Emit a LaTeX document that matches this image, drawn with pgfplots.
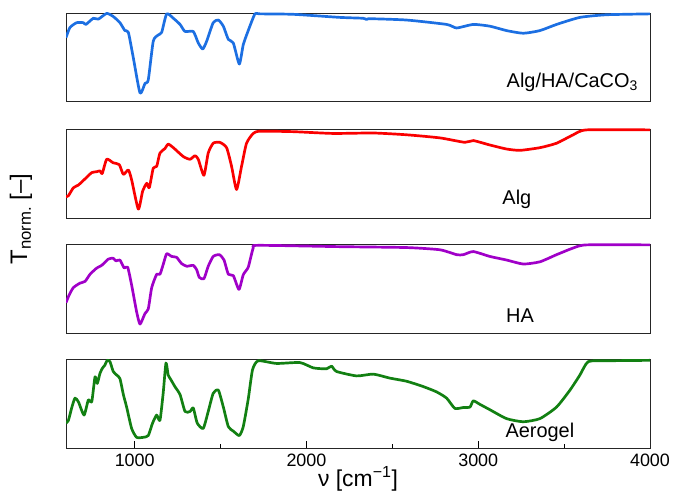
\documentclass[border=0pt]{standalone}
\usepackage{fontspec}
\setmainfont{Liberation Sans}
\usepackage{pgfplots}
\pgfplotsset{compat=1.18}
\definecolor{cblue}{RGB}{28,111,226}
\definecolor{cred}{RGB}{250,0,0}
\definecolor{cpurple}{RGB}{160,0,200}
\definecolor{cgreen}{RGB}{18,128,18}
\pgfplotsset{
  panel/.style={
    scale only axis, width=584bp, anchor=south west,
    xmin=600, xmax=4000, ymin=0, ymax=1,
    ytick=\empty, axis line style={line width=0.9pt, black!85},
    /pgf/number format/assume math mode=true,
    /pgf/number format/set thousands separator={},
    every axis plot/.append style={line width=2.7pt, line join=round, smooth, tension=0.35},
  },
  nox/.style={xtick=\empty},
}
\begin{document}
\begin{tikzpicture}
\useasboundingbox (-66bp,-51bp) rectangle (607bp,448bp);
% Panel 1
\begin{axis}[panel, nox, at={(0bp,347bp)}, height=88bp]
\addplot[cblue] coordinates {(600,0.72)(623,0.835)(662,0.89)(701,0.89)(716,0.87)(759,0.94)(788,0.93)(837,0.995)(875,0.96)(914,0.89)(943,0.80)(963,0.78)(992,0.49)(1031,0.09)(1060,0.20)(1079,0.24)(1108,0.68)(1137,0.75)(1157,0.78)(1186,0.99)(1225,0.94)(1264,0.87)(1293,0.79)(1341,0.79)(1370,0.66)(1396,0.59)(1419,0.68)(1457,0.89)(1487,0.92)(1516,0.85)(1545,0.70)(1574,0.66)(1609,0.42)(1632,0.64)(1661,0.80)(1700,0.99)(1730,0.99)(1923,0.985)(2195,0.95)(2330,0.94)(2350,0.925)(2370,0.935)(2583,0.92)(2816,0.87)(2874,0.83)(2971,0.87)(3068,0.85)(3165,0.80)(3262,0.77)(3359,0.80)(3456,0.87)(3592,0.95)(3747,0.98)(4000,0.99)};
\node[anchor=east, font=\fontsize{20}{22}\selectfont] at (axis cs:3950,0.21) {Alg/HA/CaCO\textsubscript{3}};
\end{axis}
% Panel 2
\begin{axis}[panel, nox, at={(0bp,230bp)}, height=89bp]
\addplot[cred] coordinates {(600,0.24)(614,0.25)(643,0.34)(672,0.37)(711,0.44)(750,0.51)(779,0.52)(798,0.53)(811,0.50)(837,0.66)(875,0.62)(910,0.60)(934,0.49)(963,0.54)(982,0.43)(1021,0.10)(1046,0.30)(1070,0.39)(1085,0.34)(1108,0.56)(1128,0.58)(1147,0.73)(1176,0.78)(1195,0.83)(1225,0.79)(1283,0.69)(1322,0.66)(1351,0.70)(1370,0.66)(1403,0.48)(1428,0.73)(1457,0.84)(1496,0.85)(1535,0.79)(1564,0.58)(1593,0.32)(1622,0.58)(1651,0.84)(1690,0.95)(1729,0.975)(1923,0.97)(2155,0.95)(2389,0.955)(2583,0.935)(2777,0.90)(2922,0.85)(2971,0.87)(3068,0.82)(3165,0.775)(3243,0.76)(3359,0.79)(3456,0.84)(3553,0.935)(3631,0.99)(4000,0.99)};
\node[font=\fontsize{20}{22}\selectfont] at (axis cs:3225,0.21) {Alg};
\end{axis}
% Panel 3
\begin{axis}[panel, nox, at={(0bp,115bp)}, height=89bp]
\addplot[cpurple] coordinates {(600,0.34)(619,0.43)(643,0.51)(681,0.56)(711,0.58)(740,0.66)(779,0.73)(808,0.76)(846,0.83)(875,0.84)(891,0.81)(914,0.82)(939,0.73)(959,0.74)(982,0.54)(1011,0.24)(1031,0.10)(1060,0.22)(1079,0.27)(1099,0.51)(1128,0.66)(1147,0.66)(1166,0.77)(1186,0.89)(1215,0.86)(1244,0.85)(1273,0.78)(1303,0.75)(1341,0.76)(1361,0.71)(1376,0.625)(1403,0.61)(1428,0.75)(1457,0.86)(1493,0.88)(1520,0.82)(1545,0.66)(1574,0.645)(1607,0.49)(1632,0.655)(1661,0.74)(1690,0.955)(1719,0.985)(2195,0.97)(2583,0.96)(2777,0.935)(2874,0.88)(2913,0.88)(2971,0.915)(3068,0.86)(3165,0.82)(3262,0.775)(3359,0.80)(3456,0.88)(3553,0.955)(3631,0.99)(4000,0.99)};
\node[font=\fontsize{20}{22}\selectfont] at (axis cs:3243,0.19) {HA};
\end{axis}
% Panel 4
\begin{axis}[panel, at={(0bp,0bp)}, height=89bp,
  xtick={1000,2000,3000,4000}, minor xtick={1500,2500,3500},
  xtick pos=bottom, tick align=inside,
  major tick length=7bp, minor tick length=4bp,
  every tick/.style={black, line width=0.8pt},
  tick label style={font=\fontsize{18}{20}\selectfont},
  xticklabel style={yshift=-2bp},
  xlabel={ν [cm\textsuperscript{−1}]},
  xlabel style={font=\fontsize{23}{25}\selectfont, yshift=7bp},
]
\addplot[cgreen] coordinates {(600,0.28)(614,0.31)(633,0.45)(652,0.56)(672,0.52)(705,0.37)(730,0.54)(750,0.52)(769,0.80)(782,0.725)(798,0.84)(813,0.90)(826,0.93)(840,0.985)(856,0.97)(875,0.86)(895,0.82)(914,0.78)(934,0.60)(953,0.46)(982,0.22)(1011,0.12)(1050,0.12)(1079,0.14)(1104,0.28)(1128,0.37)(1147,0.31)(1166,0.62)(1182,0.955)(1195,0.82)(1210,0.77)(1234,0.69)(1264,0.60)(1293,0.41)(1322,0.41)(1341,0.45)(1364,0.28)(1399,0.22)(1428,0.41)(1457,0.615)(1487,0.65)(1516,0.46)(1545,0.24)(1574,0.19)(1609,0.14)(1632,0.24)(1661,0.55)(1686,0.88)(1719,0.98)(1826,0.95)(1962,0.96)(2040,0.90)(2117,0.89)(2146,0.92)(2175,0.86)(2292,0.81)(2389,0.83)(2486,0.785)(2583,0.75)(2680,0.69)(2758,0.63)(2816,0.56)(2864,0.445)(2913,0.455)(2952,0.46)(2971,0.53)(3010,0.49)(3068,0.43)(3165,0.33)(3262,0.295)(3359,0.33)(3456,0.46)(3534,0.65)(3592,0.82)(3640,0.97)(3747,0.98)(4000,0.985)};
\node[font=\fontsize{20}{22}\selectfont] at (axis cs:3359,0.18) {Aerogel};
\end{axis}
\node[rotate=90, font=\fontsize{24}{26}\selectfont] at (-45bp,229bp) {T\textsubscript{norm.} [–]};
\end{tikzpicture}
\end{document}
